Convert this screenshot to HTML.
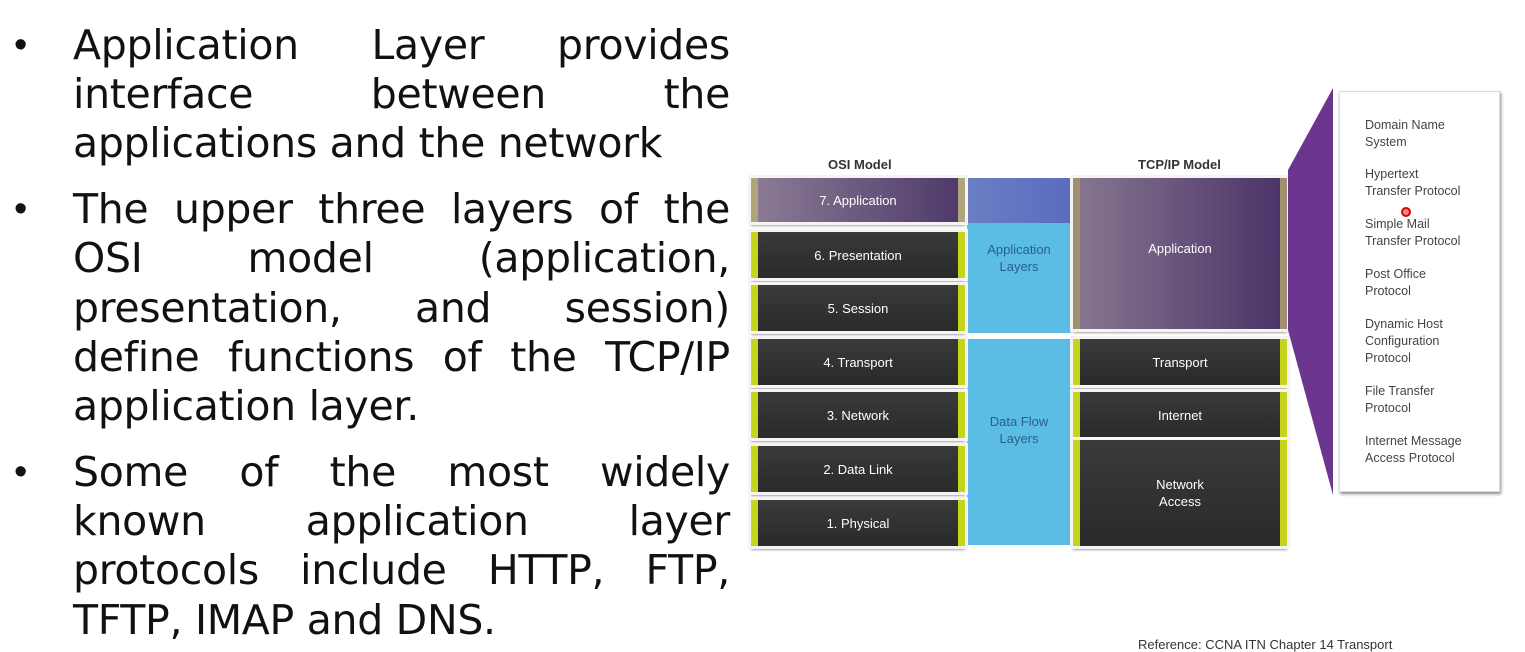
<!DOCTYPE html>
<html><head><meta charset="utf-8"><style>
body{margin:0;width:1525px;height:644px;background:#fff;position:relative;overflow:hidden;font-family:"Liberation Sans",sans-serif}
.l{position:absolute;left:73px;width:657px;font-family:"DejaVu Sans",sans-serif;font-size:41px;line-height:49px;color:#111;white-space:nowrap;letter-spacing:-0.3px}
.j{text-align:justify;text-align-last:justify;white-space:normal}
.b{position:absolute;left:14px;font-size:38px;color:#111}
.box{position:absolute;box-sizing:border-box;background:linear-gradient(#3a3a3a,#2a2a2a);border-left:7px solid #c6d41c;border-right:7px solid #c6d41c;color:#fff;font-size:13px;display:flex;align-items:center;justify-content:center;text-align:center;outline:3px solid #f4f4f4;box-shadow:0 3px 3px #555}
.h{position:absolute;font-size:13px;font-weight:bold;color:#333}
.p{position:absolute;left:1365px;font-size:12.5px;line-height:17px;color:#444}
</style></head><body>
<div class="b" style="top:24px">•</div>
<div class="l j" style="top:21px">Application Layer provides</div>
<div class="l j" style="top:70px">interface between the</div>
<div class="l" style="top:119px">applications and the network</div>
<div class="b" style="top:188px">•</div>
<div class="l j" style="top:185px">The upper three layers of the</div>
<div class="l j" style="top:234px">OSI model (application,</div>
<div class="l j" style="top:284px">presentation, and session)</div>
<div class="l j" style="top:333px">define functions of the TCP/IP</div>
<div class="l" style="top:382px">application layer.</div>
<div class="b" style="top:451px">•</div>
<div class="l j" style="top:448px">Some of the most widely</div>
<div class="l j" style="top:497px">known application layer</div>
<div class="l j" style="top:546px">protocols include HTTP, FTP,</div>
<div class="l" style="top:596px">TFTP, IMAP and DNS.</div>

<div class="h" style="left:828px;top:157px">OSI Model</div>
<div class="h" style="left:1138px;top:157px">TCP/IP Model</div>

<div style="position:absolute;left:967px;top:178px;width:104px;height:155px;background:#5bbde3"></div>
<div style="position:absolute;left:967px;top:178px;width:104px;height:45px;background:linear-gradient(90deg,#6a7fc4,#5a6cc0)"></div>
<div style="position:absolute;left:967px;top:339px;width:104px;height:206px;background:#5bbde3"></div>
<div style="position:absolute;left:967px;top:241px;width:104px;text-align:center;font-size:13px;color:#2a5f8a;line-height:17px">Application<br>Layers</div>
<div style="position:absolute;left:967px;top:413px;width:104px;text-align:center;font-size:13px;color:#2a5f8a;line-height:17px">Data Flow<br>Layers</div>

<div class="box" style="left:751px;top:178px;width:214px;height:44px;background:linear-gradient(90deg,#8a7a94,#4f3a6a);border-color:#b0a57a">7. Application</div>
<div class="box" style="left:751px;top:232px;width:214px;height:46px">6. Presentation</div>
<div class="box" style="left:751px;top:285px;width:214px;height:46px">5. Session</div>
<div class="box" style="left:751px;top:339px;width:214px;height:46px">4. Transport</div>
<div class="box" style="left:751px;top:392px;width:214px;height:46px">3. Network</div>
<div class="box" style="left:751px;top:446px;width:214px;height:46px">2. Data Link</div>
<div class="box" style="left:751px;top:500px;width:214px;height:46px">1. Physical</div>

<div class="box" style="left:1073px;top:178px;width:214px;height:151px;background:linear-gradient(90deg,#85758f,#4c3468);border-color:#a09070;padding-bottom:10px">Application</div>
<div class="box" style="left:1073px;top:339px;width:214px;height:46px">Transport</div>
<div class="box" style="left:1073px;top:392px;width:214px;height:46px">Internet</div>
<div class="box" style="left:1073px;top:440px;width:214px;height:106px;line-height:17px">Network<br>Access</div>

<svg style="position:absolute;left:0;top:0" width="1525" height="644"><polygon points="1288,170 1333,88 1333,495 1288,330" fill="#6b3590"/></svg>
<div style="position:absolute;left:1339px;top:91px;width:161px;height:401px;background:#fff;box-shadow:1px 2px 3px #888;border:1px solid #ddd;box-sizing:border-box"></div>
<div class="p" style="top:117px">Domain Name<br>System</div>
<div class="p" style="top:166px">Hypertext<br>Transfer Protocol</div>
<div class="p" style="top:216px">Simple Mail<br>Transfer Protocol</div>
<div class="p" style="top:266px">Post Office<br>Protocol</div>
<div class="p" style="top:316px">Dynamic Host<br>Configuration<br>Protocol</div>
<div class="p" style="top:383px">File Transfer<br>Protocol</div>
<div class="p" style="top:433px">Internet Message<br>Access Protocol</div>
<div style="position:absolute;left:1401px;top:207px;width:6px;height:6px;border-radius:50%;border:2px solid #d00;background:#f88"></div>
<div style="position:absolute;left:1138px;top:637px;font-size:13px;color:#333">Reference: CCNA ITN Chapter 14 Transport</div>
</body></html>
